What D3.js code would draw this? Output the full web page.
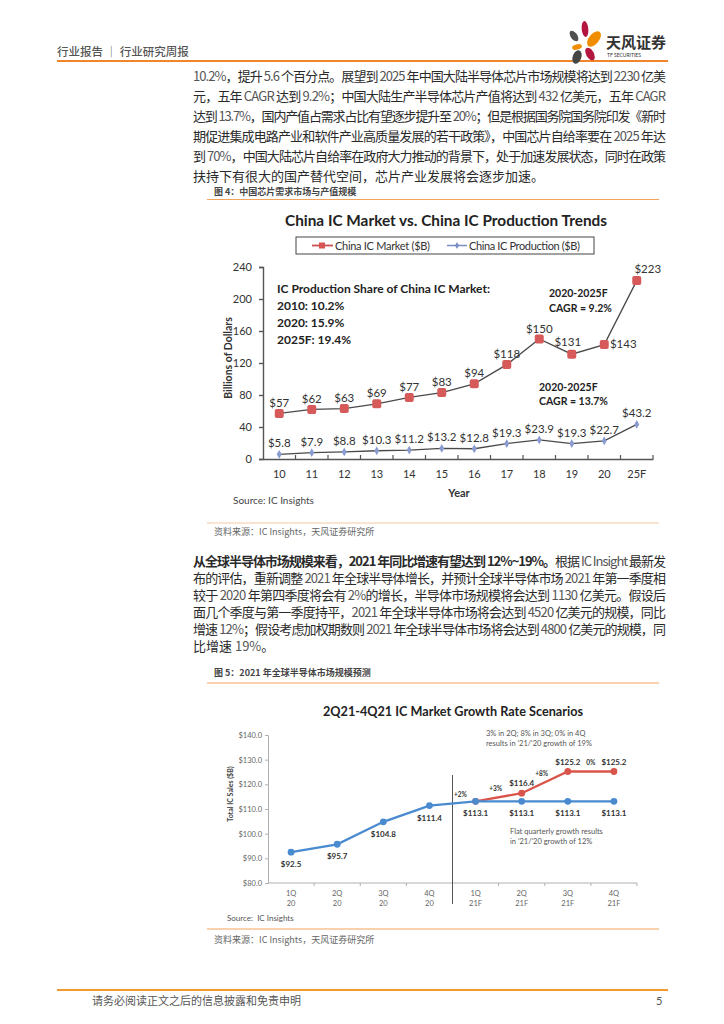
<!DOCTYPE html>
<html><head><meta charset="utf-8">
<script src="https://cdn.jsdelivr.net/npm/d3@7"></script>
<style>body{margin:0;background:#fff;} svg{display:block;}</style>
</head><body>
<svg id="page" width="724" height="1024"></svg>
<script>
// ---------- DATA ----------
const years = ["10","11","12","13","14","15","16","17","18","19","20","25F"];
const marketVals = [57,62,63,69,77,83,94,118,150,131,143,223];
const productionVals = [5.8,7.9,8.8,10.3,11.2,13.2,12.8,19.3,23.9,19.3,22.7,43.2];
const yTicks1 = [0,40,80,120,160,200,240];
const legend1 = ["China IC Market ($B)","China IC Production ($B)"];

const quarters = ["1Q 20","2Q 20","3Q 20","4Q 20","1Q 21F","2Q 21F","3Q 21F","4Q 21F"];
const flatVals = [92.5,95.7,104.8,111.4,113.1,113.1,113.1,113.1];
const growthVals = [null,null,null,null,113.1,116.4,125.2,125.2];
const growthRates = ["+2%","+3%","+8%","0%"];
const yTicks2 = [80,90,100,110,120,130,140];

const para1 = [
 "10.2%，提升 5.6 个百分点。展望到 2025 年中国大陆半导体芯片市场规模将达到 2230 亿美",
 "元，五年 CAGR 达到 9.2%；中国大陆生产半导体芯片产值将达到 432 亿美元，五年 CAGR",
 "达到 13.7%，国内产值占需求占比有望逐步提升至 20%；但是根据国务院国务院印发《新时",
 "期促进集成电路产业和软件产业高质量发展的若干政策》，中国芯片自给率要在 2025 年达",
 "到 70%，中国大陆芯片自给率在政府大力推动的背景下，处于加速发展状态，同时在政策",
 "扶持下有很大的国产替代空间，芯片产业发展将会逐步加速。"
];
const para2Bold = "从全球半导体市场规模来看，2021 年同比增速有望达到 12%~19%。";
const para2 = [
 "根据 IC Insight 最新发",
 "布的评估，重新调整 2021 年全球半导体增长，并预计全球半导体市场 2021 年第一季度相",
 "较于 2020 年第四季度将会有 2%的增长，半导体市场规模将会达到 1130 亿美元。假设后",
 "面几个季度与第一季度持平，2021 年全球半导体市场将会达到 4520 亿美元的规模，同比",
 "增速 12%；假设考虑加权期数则 2021 年全球半导体市场将会达到 4800 亿美元的规模，同",
 "比增速 19%。"
];

// ---------- PAGE ----------
const svg = d3.select("#page");
const CJK = "'Noto Sans CJK SC','Noto Sans CJK TC',sans-serif";
const LAT = "Lato,'Open Sans',sans-serif";
const ORANGE = "#f0862a";

// header
svg.append("text").attr("x",57).attr("y",56).attr("font-family",CJK).attr("font-size",11.5)
  .attr("font-weight",500).attr("fill","#555").text("行业报告 │ 行业研究周报");
svg.append("line").attr("x1",57).attr("x2",668).attr("y1",61).attr("y2",61)
  .attr("stroke",ORANGE).attr("stroke-width",2);
// logo
const petals = [
 [585,29,3.3,8,-5,"#b3173f"],[594,39,5,9,40,"#f08c00"],[574,36,3.3,6,-35,"#505050"],
 [577,47,5,2.6,-15,"#f08c00"],[577,57,4.3,7,20,"#454545"],[590,54,3.8,7,-30,"#b3173f"]];
petals.forEach(p=>svg.append("ellipse").attr("cx",p[0]).attr("cy",p[1]).attr("rx",p[2]).attr("ry",p[3])
  .attr("transform",`rotate(${p[4]},${p[0]},${p[1]})`).attr("fill",p[5]));
svg.append("text").attr("x",606).attr("y",48).attr("font-family",CJK).attr("font-size",15)
  .attr("font-weight",700).attr("fill","#333").text("天风证券");
svg.append("text").attr("x",607).attr("y",57).attr("font-family",LAT).attr("font-size",5)
  .attr("fill","#333").text("TF SECURITIES");

// paragraph helper
function drawLine(segs, x, y, width){
  const t = svg.append("text").attr("x",x).attr("y",y).attr("font-family",CJK)
    .attr("font-size",13).attr("fill","#333");
  segs.forEach(s=>{
    const parts = s.t.split(/([A-Za-z0-9.%~]+)/);
    parts.forEach(pp=>{
      if(!pp) return;
      const ascii = /^[A-Za-z0-9.%~]+$/.test(pp);
      t.append("tspan").attr("font-weight",s.b?700:400)
       .attr("fill", ascii && !s.b ? "#555" : "#2a2a2a").text(pp);
    });
  });
  if(width){ t.attr("textLength",width).attr("lengthAdjust","spacing"); }
}
para1.forEach((l,i)=>drawLine([{t:l}],193,81+i*20, i<para1.length-1?473:null));
drawLine([{t:para2Bold,b:true},{t:para2[0]}],193,566,473);
para2.slice(1).forEach((l,i)=>drawLine([{t:l}],193,566+(i+1)*17, i<para2.length-2?473:null));

function caption(txt,y,bold){
  svg.append("text").attr("x",214).attr("y",y).attr("font-family",CJK).attr("font-size",9)
   .attr("font-weight",bold?700:400).attr("fill",bold?"#444":"#666").text(txt);
}
function rule(y,c,w){ svg.append("line").attr("x1",207).attr("x2",659).attr("y1",y).attr("y2",y)
   .attr("stroke",c).attr("stroke-width",w); }

caption("图 4：中国芯片需求市场与产值规模",194.5,true);
rule(199.5,"#f3a35c",1.2);
rule(523,"#f6c9a0",1);
caption("资料来源：IC Insights，天风证券研究所",535,false);
caption("图 5：2021 年全球半导体市场规模预测",676,true);
rule(683,"#f3a35c",1.2);
rule(929,"#f3a35c",1.2);
caption("资料来源：IC Insights，天风证券研究所",943,false);

// footer
svg.append("line").attr("x1",57).attr("x2",668).attr("y1",990).attr("y2",990)
  .attr("stroke","#f29a30").attr("stroke-width",2.2);
svg.append("text").attr("x",92).attr("y",1005).attr("font-family",CJK).attr("font-size",11)
  .attr("fill","#555").text("请务必阅读正文之后的信息披露和免责申明");
svg.append("text").attr("x",656).attr("y",1005).attr("font-family",LAT).attr("font-size",11)
  .attr("fill","#555").text("5");

// ---------- CHART 1 ----------
const c1 = svg.append("g");
c1.append("text").attr("x",446).attr("y",226).attr("text-anchor","middle").attr("font-family",LAT)
  .attr("font-weight",700).attr("font-size",16).attr("fill","#222")
  .attr("textLength",322).attr("lengthAdjust","spacingAndGlyphs")
  .text("China IC Market vs. China IC Production Trends");
// legend
c1.append("rect").attr("x",296).attr("y",237).attr("width",298).attr("height",17)
  .attr("fill","#fff").attr("stroke","#444").attr("stroke-width",1);
c1.append("line").attr("x1",312).attr("x2",333).attr("y1",245.5).attr("y2",245.5).attr("stroke","#c9504f").attr("stroke-width",1.8);
c1.append("rect").attr("x",319).attr("y",242.5).attr("width",6).attr("height",6).attr("fill","#d65454");
c1.append("text").attr("x",335).attr("y",249.5).attr("font-family",LAT).attr("font-size",11)
  .attr("fill","#333").attr("textLength",95).text(legend1[0]);
c1.append("line").attr("x1",447).attr("x2",467).attr("y1",245.5).attr("y2",245.5).attr("stroke","#7b8cc4").attr("stroke-width",1.5);
c1.append("path").attr("d",d3.symbol(d3.symbolDiamond,14)()).attr("transform","translate(457,245.5)").attr("fill","#7b8cc4");
c1.append("text").attr("x",469).attr("y",249.5).attr("font-family",LAT).attr("font-size",11)
  .attr("fill","#333").attr("textLength",111).text(legend1[1]);

const x1 = d3.scaleBand().domain(years).range([263,653]);
const y1 = d3.scaleLinear().domain([0,240]).range([459,267]);
const cx1 = d => x1(d)+x1.bandwidth()/2;

const ya1 = c1.append("g").attr("transform","translate(263,0)")
  .call(d3.axisLeft(y1).tickValues(yTicks1).tickSize(4).tickPadding(7));
ya1.selectAll("line,path").attr("stroke","#555").attr("stroke-width",1.4);
ya1.selectAll("text").attr("font-family",LAT).attr("font-size",11).attr("fill","#333");

const xa1 = c1.append("g").attr("transform","translate(0,459)")
  .call(d3.axisBottom(x1).tickSize(0).tickPadding(11));
xa1.select("path").attr("stroke","#555").attr("stroke-width",1.4);
xa1.selectAll("text").attr("font-family",LAT).attr("font-size",11).attr("fill","#333");
c1.append("g").selectAll("line").data(years.slice(1)).join("line")
  .attr("x1",d=>x1(d)).attr("x2",d=>x1(d)).attr("y1",459).attr("y2",455)
  .attr("stroke","#555").attr("stroke-width",1.2);
c1.append("line").attr("x1",653).attr("x2",653).attr("y1",459).attr("y2",455).attr("stroke","#555").attr("stroke-width",1.2);

c1.append("text").attr("transform","translate(232,358) rotate(-90)").attr("text-anchor","middle")
  .attr("font-family",LAT).attr("font-weight",700).attr("font-size",10.5).attr("fill","#333")
  .text("Billions of Dollars");
c1.append("text").attr("x",459).attr("y",497).attr("text-anchor","middle").attr("font-family",LAT)
  .attr("font-weight",700).attr("font-size",11).attr("fill","#333").text("Year");
c1.append("text").attr("x",233).attr("y",504).attr("font-family",LAT).attr("font-size",10)
  .attr("fill","#444").text("Source: IC Insights");

const line1 = d3.line().x((d,i)=>cx1(years[i])).y(d=>y1(d));
c1.append("path").attr("d",line1(marketVals)).attr("fill","none").attr("stroke","#4a4a4a").attr("stroke-width",1.3);
c1.append("path").attr("d",line1(productionVals)).attr("fill","none").attr("stroke","#4a4a4a").attr("stroke-width",1.3);
c1.selectAll(".mk").data(marketVals).join("rect").attr("class","mk")
  .attr("x",(d,i)=>cx1(years[i])-4.5).attr("y",d=>y1(d)-4.5).attr("width",9).attr("height",9)
  .attr("rx",2).attr("fill","#d65a5a");
c1.selectAll(".pk").data(productionVals).join("path").attr("class","pk")
  .attr("d",d3.symbol(d3.symbolDiamond,22)())
  .attr("transform",(d,i)=>`translate(${cx1(years[i])},${y1(d)})`).attr("fill","#8a9bd0");

const mOff = i => i===9?[-4,-8]:(i===10?[19,3]:(i===11?[11,-8]:[0,-6.5]));
c1.selectAll(".ml").data(marketVals).join("text").attr("class","ml")
  .attr("x",(d,i)=>cx1(years[i])+mOff(i)[0]).attr("y",(d,i)=>y1(d)+mOff(i)[1])
  .attr("text-anchor","middle").attr("font-family",LAT).attr("font-size",11.5).attr("fill","#333")
  .text(d=>"$"+d);
c1.selectAll(".pl").data(productionVals).join("text").attr("class","pl")
  .attr("x",(d,i)=>cx1(years[i])).attr("y",d=>y1(d)-7)
  .attr("text-anchor","middle").attr("font-family",LAT).attr("font-size",11.5).attr("fill","#333")
  .text(d=>"$"+d);

const ann1 = ["IC Production Share of China IC Market:","2010: 10.2%","2020: 15.9%","2025F: 19.4%"];
ann1.forEach((t,i)=>c1.append("text").attr("x",277).attr("y",293+i*17).attr("font-family",LAT)
  .attr("font-weight",700).attr("font-size",12).attr("fill","#222").text(t));
[["2020-2025F",549,297],["CAGR = 9.2%",549,312],["2020-2025F",539,391],["CAGR = 13.7%",539,405]]
 .forEach(a=>c1.append("text").attr("x",a[1]).attr("y",a[2]).attr("font-family",LAT)
  .attr("font-weight",700).attr("font-size",10.5).attr("fill","#222").text(a[0]));

// ---------- CHART 2 ----------
const c2 = svg.append("g");
c2.append("text").attr("x",453).attr("y",716).attr("text-anchor","middle").attr("font-family",LAT)
  .attr("font-weight",700).attr("font-size",13.5).attr("fill","#222")
  .attr("textLength",260).attr("lengthAdjust","spacingAndGlyphs")
  .text("2Q21-4Q21 IC Market Growth Rate Scenarios");
const x2 = d3.scaleBand().domain(quarters).range([268,637]);
const y2 = d3.scaleLinear().domain([80,140]).range([883,735]);
const cx2 = i => x2(quarters[i])+x2.bandwidth()/2;

const ya2 = c2.append("g").attr("transform","translate(268,0)")
  .call(d3.axisLeft(y2).tickValues(yTicks2).tickSize(3).tickPadding(3).tickFormat(d=>"$"+d.toFixed(1)));
ya2.selectAll("line,path").attr("stroke","#b0b0b0");
ya2.selectAll("text").attr("font-family",LAT).attr("font-size",7.5).attr("fill","#666");

c2.append("line").attr("x1",268).attr("x2",637).attr("y1",883).attr("y2",883).attr("stroke","#b0b0b0");
c2.append("g").selectAll("line").data(quarters.slice(1).concat(["end"])).join("line")
  .attr("x1",d=>d==="end"?637:x2(d)).attr("x2",d=>d==="end"?637:x2(d)).attr("y1",883).attr("y2",886)
  .attr("stroke","#b0b0b0");
quarters.forEach((q,i)=>{
  const [a,b] = q.split(" ");
  const t = c2.append("text").attr("text-anchor","middle").attr("font-family",LAT).attr("font-size",7.5).attr("fill","#666");
  t.append("tspan").attr("x",cx2(i)).attr("y",896).text(a);
  t.append("tspan").attr("x",cx2(i)).attr("y",906).text(b);
});
c2.append("line").attr("x1",x2(quarters[4])).attr("x2",x2(quarters[4])).attr("y1",775).attr("y2",904)
  .attr("stroke","#555").attr("stroke-width",1);

c2.append("text").attr("transform","translate(233,794) rotate(-90)").attr("text-anchor","middle")
  .attr("font-family",LAT).attr("font-weight",700).attr("font-size",7).attr("fill","#444")
  .text("Total IC Sales ($B)");
c2.append("text").attr("x",227).attr("y",921).attr("font-family",LAT).attr("font-size",8)
  .attr("fill","#555").attr("xml:space","preserve").text("Source:  IC Insights");

const line2 = d3.line().defined(d=>d!==null).x((d,i)=>cx2(i)).y(d=>y2(d));
c2.append("path").attr("d",line2(growthVals)).attr("fill","none").attr("stroke","#d9544a").attr("stroke-width",2.3);
c2.append("path").attr("d",line2(flatVals)).attr("fill","none").attr("stroke","#4a8bd0").attr("stroke-width",2.3);
c2.selectAll(".gp").data(growthVals.map((v,i)=>({v,i})).filter(d=>d.v!==null)).join("circle").attr("class","gp")
  .attr("cx",d=>cx2(d.i)).attr("cy",d=>y2(d.v)).attr("r",3.4).attr("fill","#d9544a");
c2.selectAll(".fp").data(flatVals).join("circle").attr("class","fp")
  .attr("cx",(d,i)=>cx2(i)).attr("cy",d=>y2(d)).attr("r",3.4).attr("fill","#4a8bd0");
c2.selectAll(".fl").data(flatVals).join("text").attr("class","fl")
  .attr("x",(d,i)=>cx2(i)).attr("y",d=>y2(d)+15).attr("text-anchor","middle").attr("font-family",LAT)
  .attr("font-weight",700).attr("font-size",8).attr("fill","#333").text(d=>"$"+d.toFixed(1));
c2.selectAll(".gl").data(growthVals.map((v,i)=>({v,i})).filter(d=>d.v!==null && d.i>4)).join("text").attr("class","gl")
  .attr("x",d=>cx2(d.i)).attr("y",d=>y2(d.v)-7).attr("text-anchor","middle").attr("font-family",LAT)
  .attr("font-weight",700).attr("font-size",8).attr("fill","#333").text(d=>"$"+d.v.toFixed(1));
growthRates.forEach((r,k)=>{
  const i = 4+k;
  const prev = i===4 ? flatVals[3] : growthVals[i-1];
  const mx = (cx2(i-1)+cx2(i))/2 + (k===0?8:(k===3?0:-3));
  const my = (y2(prev)+y2(growthVals[i]))/2 - (k===3?7:6);
  c2.append("text").attr("x",mx).attr("y",my).attr("text-anchor","middle").attr("font-family",LAT)
    .attr("font-weight",700).attr("font-size",6.5).attr("fill","#333").text(r);
});
[["3% in 2Q; 8% in 3Q; 0% in 4Q",486,736],["results in '21/'20 growth of 19%",486,746],
 ["Flat quarterly growth results",510,834],["in '21/'20 growth of 12%",510,844]]
 .forEach(a=>c2.append("text").attr("x",a[1]).attr("y",a[2]).attr("font-family",LAT)
   .attr("font-size",7.5).attr("fill","#555").text(a[0]));
</script>
</body></html>
